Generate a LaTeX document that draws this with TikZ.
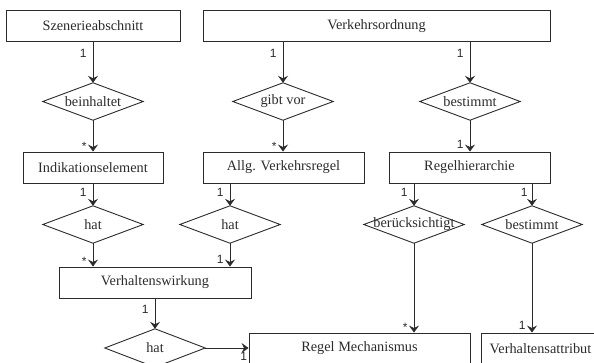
\documentclass[tikz,border=0pt]{standalone}
\usepackage{fontspec}
\setmainfont{Liberation Serif}
\setsansfont{Liberation Sans}
\usetikzlibrary{arrows.meta}
\definecolor{ink}{HTML}{2B2B2B}
\tikzset{
  ent/.style={draw=ink, line width=0.9pt, rectangle, minimum height=31pt, inner sep=0pt, font=\fontsize{14.3}{16}\selectfont, text=ink},
  rel/.style={draw=none, rectangle, minimum width=100pt, minimum height=37pt, inner sep=0pt, font=\fontsize{14.3}{16}\selectfont, text=ink},
  conn/.style={draw=ink, line width=0.9pt, -{Stealth[length=7pt,width=10pt,inset=2.5pt]}},
  lab/.style={font=\sffamily\fontsize{12}{13}\selectfont, text=ink, inner sep=0pt},
  srclab/.style={lab, at start, anchor=north east, xshift=-6pt, yshift=-7pt},
  tgtlab/.style={lab, at end, anchor=south east, xshift=-6pt, yshift=3pt},
  starlab/.style={lab, at end, anchor=south east, xshift=-6pt, yshift=1pt},
}
\newcommand{\diamondof}[1]{\draw[ink, line width=0.9pt] (#1.north) -- (#1.east) -- (#1.south) -- (#1.west) -- cycle;}
\begin{document}
\begin{tikzpicture}[x=1pt,y=-1pt]
\useasboundingbox (0,0) rectangle (594,363);
\clip (0,0) rectangle (594,363);
% entities
\node[ent, minimum width=174pt] (sz) at (93,26) {Szenerieabschnitt};
\node[ent, minimum width=347pt] (vo) at (376.5,26) {Verkehrsordnung};
\node[ent, minimum width=140pt] (ind) at (93,167.5) {Indikationselement};
\node[ent, minimum width=161pt] (avr) at (283.5,167.5) {Allg. Verkehrsregel};
\node[ent, minimum width=161pt] (rh) at (469.5,167.5) {Regelhierarchie};
\node[ent, minimum width=192pt] (vw) at (155,282.5) {Verhaltenswirkung};
\node[ent, minimum width=221pt] (rm) at (359.5,348.5) {Regel Mechanismus};
\node[ent, minimum width=119pt] (va) at (540.5,348.5) {Verhaltensattribut};
% relations
\node[rel] (bein) at (93,101.5) {beinhaltet};
\node[rel] (gv) at (283,101.5) {gibt vor};
\node[rel] (best1) at (470,101.5) {bestimmt};
\node[rel] (hat1) at (93,224.5) {hat};
\node[rel] (hat2) at (230,224.5) {hat};
\node[rel] (ber) at (414,224.5) {berücksichtigt};
\node[rel] (best2) at (532,224.5) {bestimmt};
\node[rel, minimum height=38pt] (hat3) at (155,348) {hat};
\diamondof{bein}\diamondof{gv}\diamondof{best1}\diamondof{hat1}\diamondof{hat2}\diamondof{ber}\diamondof{best2}\diamondof{hat3}
% connectors
\draw[conn] (sz.south) -- node[srclab] {1} (bein.north);
\draw[conn] (bein.south) -- node[starlab] {*} (ind.north);
\draw[conn] (vo.south -| gv.north) -- node[srclab] {1} (gv.north);
\draw[conn] (gv.south) -- node[starlab] {*} (avr.north -| gv.south);
\draw[conn] (vo.south -| best1.north) -- node[srclab] {1} (best1.north);
\draw[conn] (best1.south) -- node[tgtlab] {1} (rh.north -| best1.south);
\draw[conn] (ind.south) -- node[srclab, yshift=3pt] {1} (hat1.north);
\draw[conn] (avr.south -| hat2.north) -- node[srclab, yshift=3pt] {1} (hat2.north);
\draw[conn] (hat1.south) -- node[starlab] {*} (vw.north -| hat1.south);
\draw[conn] (hat2.south) -- node[tgtlab] {1} (vw.north -| hat2.south);
\draw[conn] (rh.south -| ber.north) -- node[srclab, yshift=3pt] {1} (ber.north);
\draw[conn] (rh.south -| best2.north) -- node[srclab, yshift=3pt, xshift=2pt] {1} (best2.north);
\draw[conn] (ber.south) -- node[starlab] {*} (rm.north -| ber.south);
\draw[conn] (best2.south) -- node[tgtlab] {1} (va.north -| best2.south);
\draw[conn] (vw.south) -- node[srclab, yshift=1pt] {1} (hat3.north);
\draw[conn] (hat3.east) -- node[lab, at end, anchor=north east, xshift=-1pt, yshift=-4pt] {1} (hat3.east -| rm.west);
\end{tikzpicture}
\end{document}
